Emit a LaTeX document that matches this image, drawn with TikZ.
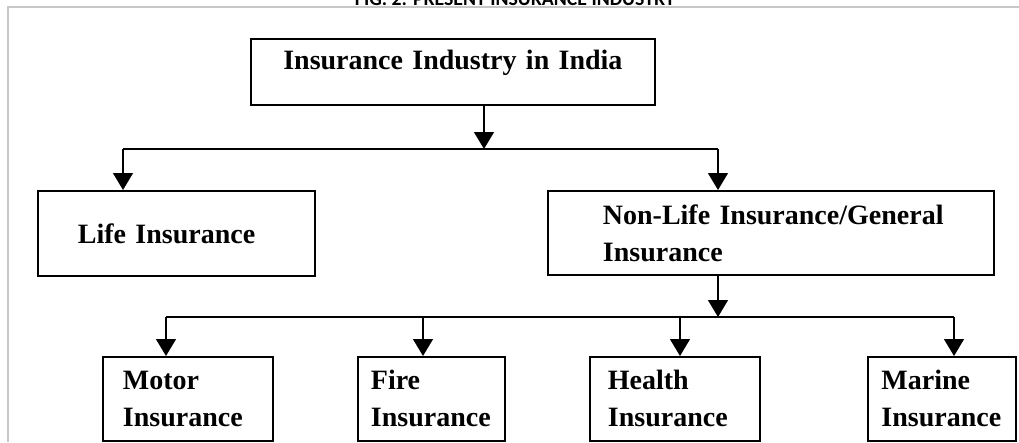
\documentclass[tikz,border=0pt]{standalone}
\usepackage{fontspec}
\setmainfont{Liberation Serif}
\newfontfamily\capfont{Carlito}
\usetikzlibrary{arrows.meta}
\tikzset{
  box/.style={draw=black, line width=1.8pt, rectangle, inner ysep=0pt, align=left,
    font=\fontsize{28}{37}\selectfont\bfseries},
  conn/.style={draw=black, line width=1.4pt},
  arr/.style={conn, -{Triangle[length=17pt,width=20pt]}},
  frame/.style={draw=black!22, line width=1.6pt}
}
\begin{document}
\begin{tikzpicture}[x=1pt,y=-1pt]
\useasboundingbox (0,0) rectangle (1019,442);
\clip (0,0) rectangle (1019,442);
% frame and cut-off caption
\draw[frame] (8,442) -- (8,7) -- (1019,7);
\node[anchor=base, inner sep=0pt, font=\capfont\bfseries] (cap) at (515,5)
  {\resizebox{320pt}{!}{FIG. 2: PRESENT INSURANCE INDUSTRY}};
% boxes
\node[box, anchor=north west, minimum width=404pt, text width=364pt, inner xsep=20pt,
      align=center, text height=31pt, text depth=35pt] (top) at (250,38)
  {Insurance Industry in India};
\node[box, anchor=north west, minimum width=277pt, minimum height=85pt,
      text width=197pt, inner xsep=40pt] (life) at (37,190) {Life Insurance};
\node[box, anchor=north west, minimum width=446pt, minimum height=84pt,
      text width=380pt, inner xsep=33pt] (nonlife) at (547,190)
  {\hspace*{22pt}Non-Life Insurance/General\\\hspace*{22pt}Insurance};
\node[box, anchor=north west, minimum width=170pt, minimum height=84pt,
      text width=130pt, inner xsep=20pt] (motor) at (102,356) {Motor\\Insurance};
\node[box, anchor=north west, minimum width=147pt, minimum height=84pt,
      text width=121pt, inner xsep=13pt] (fire) at (357,356) {Fire\\Insurance};
\node[box, anchor=north west, minimum width=170pt, minimum height=84pt,
      text width=134pt, inner xsep=18pt] (health) at (589,356) {Health\\Insurance};
\node[box, anchor=north west, minimum width=148pt, minimum height=84pt,
      text width=121pt, inner xsep=13.5pt] (marine) at (867,356) {Marine\\Insurance};
% junctions
\coordinate (j1) at (484,149);
\coordinate (j2) at (718,317);
% connectors
\draw[arr] (top.south -| j1) -- (j1);
\draw[conn] ([xshift=86pt]life.north west |- j1) -- ([xshift=171pt]nonlife.north west |- j1);
\draw[arr] ([xshift=86pt]life.north west |- j1) -- ([xshift=86pt]life.north west);
\draw[arr] ([xshift=171pt]nonlife.north west |- j1) -- ([xshift=171pt]nonlife.north west);
\draw[arr] ([xshift=171pt]nonlife.south west) -- (j2);
\draw[conn] ([xshift=64pt]motor.north west |- j2) -- ([xshift=87pt]marine.north west |- j2);
\draw[arr] ([xshift=64pt]motor.north west |- j2) -- ([xshift=64pt]motor.north west);
\draw[arr] ([xshift=66pt]fire.north west |- j2) -- ([xshift=66pt]fire.north west);
\draw[arr] ([xshift=91pt]health.north west |- j2) -- ([xshift=91pt]health.north west);
\draw[arr] ([xshift=87pt]marine.north west |- j2) -- ([xshift=87pt]marine.north west);
\end{tikzpicture}
\end{document}
